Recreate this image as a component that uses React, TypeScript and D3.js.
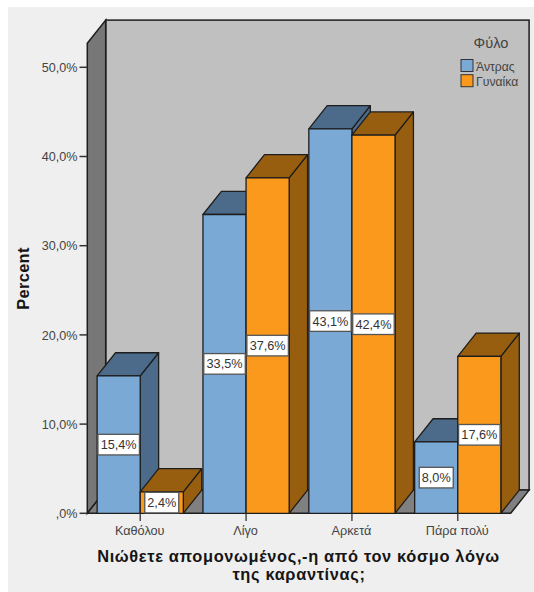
import React from "react";
import * as d3 from "d3";

const categories = ["Καθόλου", "Λίγο", "Αρκετά", "Πάρα πολύ"];
const seriesNames = ["Άντρας", "Γυναίκα"];
const menValues = [15.4, 33.5, 43.1, 8.0];
const womenValues = [2.4, 37.6, 42.4, 17.6];
const yTicks = [0, 10, 20, 30, 40, 50];
const frontColors = ["#7ba9d6", "#fb991d"];
const shadeColors = ["#4c6b8a", "#985e10"];

const WIDTH = 534;
const HEIGHT = 592;
const DEPTH_X = 18.4;
const DEPTH_Y = 23.2;
const PLOT_LEFT = 87.3;
const PLOT_RIGHT = 510.7;
const PLOT_BOTTOM = 513.3;
const WALL_TOP = 43.3;
const EDGE = "#1d1d1d";
const FONT = "'Liberation Sans', Arial, sans-serif";

const comma = (v: number) => v.toFixed(1).replace(".", ",") + "%";
const tickText = (v: number) => (v === 0 ? ",0%" : comma(v));
const pts = (list: [number, number][]) => list.map((p) => p.join(",")).join(" ");

export default function App() {
  const y = d3.scaleLinear().domain([0, 50]).range([PLOT_BOTTOM, 67.3]);
  const x = d3.scaleBand<string>().domain(categories).range([PLOT_LEFT, PLOT_RIGHT]);
  const inner = d3.scaleBand<string>().domain(seriesNames).range([0, 86.2]);
  const barW = inner.bandwidth();
  const groupOffset = (x.bandwidth() - 86.2) / 2;

  const backLeft = PLOT_LEFT + DEPTH_X;
  const backRight = PLOT_RIGHT + DEPTH_X;
  const backBottom = PLOT_BOTTOM - DEPTH_Y;
  const backTop = WALL_TOP - DEPTH_Y;

  const bars = categories.flatMap((cat, c) =>
    seriesNames.map((name, s) => ({
      cat,
      s,
      value: (s === 0 ? menValues : womenValues)[c],
      x0: (x(cat) as number) + groupOffset + (inner(name) as number),
    }))
  );

  return (
    <svg
      width={WIDTH}
      height={HEIGHT}
      viewBox={`0 0 ${WIDTH} ${HEIGHT}`}
      style={{ position: "absolute", left: 0, top: 0, display: "block" }}
      fontFamily={FONT}
    >
      <rect width={WIDTH} height={HEIGHT} fill="#fff" />
      <rect x={8} y={7} width={WIDTH - 8} height={HEIGHT - 7} fill="#efefef" />

      {/* Chart box: back wall, side wall and floor */}
      <rect x={backLeft} y={backTop} width={backRight - backLeft} height={backBottom - backTop} fill="#c0c0c0" stroke={EDGE} strokeWidth={1.5} />
      <polygon
        points={pts([[PLOT_LEFT, WALL_TOP], [backLeft, backTop], [backLeft, backBottom], [PLOT_LEFT, PLOT_BOTTOM]])}
        fill="#777777"
        stroke={EDGE}
        strokeWidth={1.5}
      />
      <polygon
        points={pts([[PLOT_LEFT, PLOT_BOTTOM], [backLeft, backBottom], [backRight, backBottom], [PLOT_RIGHT, PLOT_BOTTOM]])}
        fill="#808080"
        stroke={EDGE}
        strokeWidth={1.5}
      />

      {/* Value axis */}
      {yTicks.map((t) => (
        <g key={t}>
          <line x1={79.5} x2={PLOT_LEFT} y1={y(t)} y2={y(t)} stroke="#333" strokeWidth={1.5} />
          <text x={77.5} y={y(t) + 4.6} textAnchor="end" fontSize={12.6} fill="#444">
            {tickText(t)}
          </text>
        </g>
      ))}

      {/* Bars, painted left to right so nearer faces cover earlier ones */}
      {bars.map((b) => {
        const top = y(b.value);
        const x1 = b.x0 + barW;
        return (
          <g key={`${b.cat}-${b.s}`} stroke={EDGE} strokeWidth={1.3} strokeLinejoin="round">
            <polygon
              points={pts([[x1, top], [x1 + DEPTH_X, top - DEPTH_Y], [x1 + DEPTH_X, PLOT_BOTTOM - DEPTH_Y], [x1, PLOT_BOTTOM]])}
              fill={shadeColors[b.s]}
            />
            <polygon
              points={pts([[b.x0, top], [b.x0 + DEPTH_X, top - DEPTH_Y], [x1 + DEPTH_X, top - DEPTH_Y], [x1, top]])}
              fill={shadeColors[b.s]}
            />
            <rect x={b.x0} y={top} width={barW} height={PLOT_BOTTOM - top} fill={frontColors[b.s]} />
          </g>
        );
      })}

      {/* Value labels at the middle of each bar's front */}
      {bars.map((b) => {
        const w = b.value < 10 ? 34 : 41.5;
        const cx = b.x0 + barW / 2;
        const cy = y(b.value / 2);
        return (
          <g key={`label-${b.cat}-${b.s}`}>
            <rect x={cx - w / 2} y={cy - 10.3} width={w} height={20.6} fill="#fff" stroke="#555" strokeWidth={1.3} />
            <text x={cx} y={cy + 4.6} textAnchor="middle" fontSize={12.7} fill="#333">
              {comma(b.value)}
            </text>
          </g>
        );
      })}

      {/* Category axis */}
      {categories.map((cat) => {
        const cx = (x(cat) as number) + x.bandwidth() / 2;
        return (
          <g key={cat}>
            <line x1={cx} x2={cx} y1={PLOT_BOTTOM} y2={521} stroke="#333" strokeWidth={1.3} />
            <text x={cx - 0.5} y={535} textAnchor="middle" fontSize={12.7} fill="#444">
              {cat}
            </text>
          </g>
        );
      })}

      {/* Axis titles */}
      <text x={298.5} y={562} textAnchor="middle" fontSize={16.4} fontWeight="bold" fill="#151515" letterSpacing={0.65}>
        Νιώθετε απομονωμένος,-η από τον κόσμο λόγω
      </text>
      <text x={299} y={580} textAnchor="middle" fontSize={16.4} fontWeight="bold" fill="#151515" letterSpacing={0.65}>
        της καραντίνας;
      </text>
      <text
        transform="translate(29,278.5) rotate(-90)"
        textAnchor="middle"
        fontSize={16.4}
        fontWeight="bold"
        fill="#151515"
        letterSpacing={0.35}
      >
        Percent
      </text>

      {/* Legend */}
      <text x={491} y={48} textAnchor="middle" fontSize={14.6} fill="#444">
        Φύλο
      </text>
      {seriesNames.map((name, i) => (
        <g key={name}>
          <rect x={461} y={59.5 + i * 15.2} width={12} height={12} fill={frontColors[i]} stroke="#333" strokeWidth={1} />
          <text x={476} y={71 + i * 15} fontSize={12.2} fill="#444">
            {name}
          </text>
        </g>
      ))}
    </svg>
  );
}
